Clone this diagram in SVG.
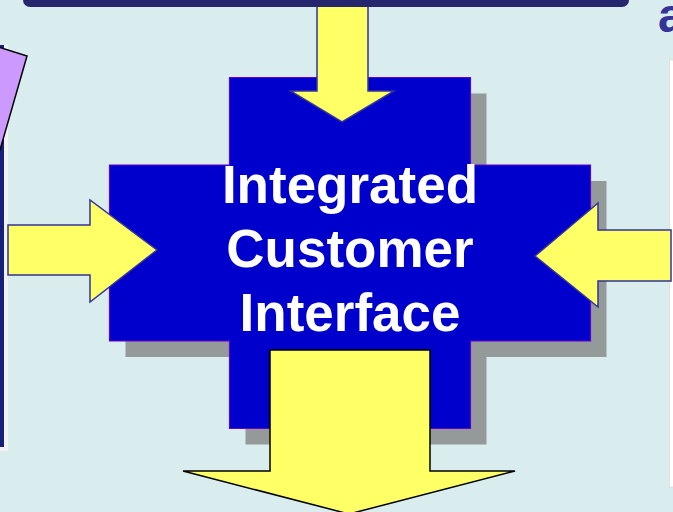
<svg xmlns="http://www.w3.org/2000/svg" width="673" height="512" viewBox="0 0 673 512">
<style>
.arrow{fill:#FFFF66;stroke:#333399;stroke-width:1.5;stroke-linejoin:miter}
.arrowk{fill:#FFFF66;stroke:#000000;stroke-width:1.5}
.shadow{fill:#949999}
.box{fill:#0000CC;stroke:#6600CC;stroke-width:1.2}
.lbl{font-family:"Liberation Sans",Arial,sans-serif;font-weight:bold;font-size:53px;fill:#FFFFFF;text-anchor:middle}
</style>
<rect x="0" y="0" width="673" height="512" fill="#D9ECEE"/>
<g id="right-title">
<text x="658" y="32" font-family="Liberation Sans,Arial,sans-serif" font-weight="bold" font-size="48" fill="#333399">a</text>
</g>
<g id="left-panel">
<rect x="0" y="45" width="8" height="406" fill="#F2F2F2"/>
<rect x="0" y="45" width="4" height="402" fill="#14207A"/>
<polygon points="-30,38 27,56 0,150 -50,140" fill="#CC99FF" stroke="#000000" stroke-width="1.5"/>
</g>
<g id="right-panel">
<rect x="669.5" y="60" width="10" height="427" fill="#FFFFFF" stroke="#E0E0E0" stroke-width="1"/>
</g>
<g id="integrated-customer-interface">
<path class="shadow" d="M245.5,93.5 H486.5 V181 H606.5 V357 H486.5 V444.5 H245.5 V357 H125.5 V181 H245.5 Z"/>
<path class="box" d="M229.5,77.5 H470.5 V165 H590.5 V341 H470.5 V428.5 H229.5 V341 H109.5 V165 H229.5 Z"/>
<text class="lbl" x="350" y="203">Integrated</text>
<text class="lbl" x="350" y="267">Customer</text>
<text class="lbl" x="350" y="331">Interface</text>
</g>
<g id="connectors">
<polygon class="arrow" points="317,-2 368,-2 368,91 394,91 342,122 290.5,91 317,91"/>
<polygon class="arrow" points="8,225 90,225 90,200 157,250 90,302 90,275 8,275"/>
<polygon class="arrow" points="671,230 598,230 598,203 535,256 598,307 598,281 671,281"/>
<polygon class="arrowk" points="270,350 430,350 430,471 515,471 349,514 183,471 270,471"/>
</g>
<g id="top-bar">
<rect x="23" y="-30" width="606" height="37" rx="7" fill="#25266E"/>
</g>
</svg>
